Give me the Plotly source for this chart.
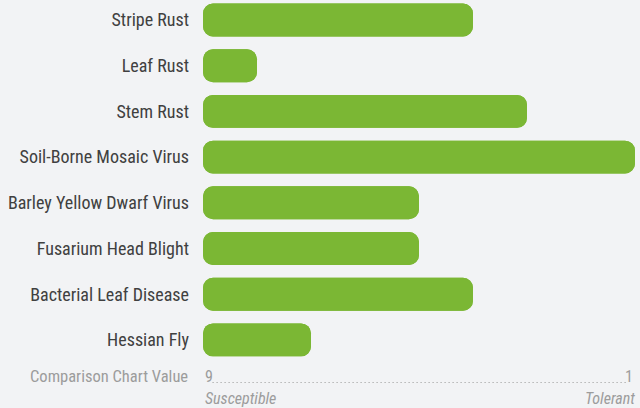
import plotly.graph_objects as go

categories = ["Stripe Rust", "Leaf Rust", "Stem Rust", "Soil-Borne Mosaic Virus",
              "Barley Yellow Dwarf Virus", "Fusarium Head Blight",
              "Bacterial Leaf Disease", "Hessian Fly"]
ratings = [4, 8, 3, 1, 5, 5, 4, 7]   # 9 = susceptible, 1 = tolerant
scale_low, scale_high = 9, 1
scale_title = "Comparison Chart Value"
low_label, high_label = "Susceptible", "Tolerant"

BG = "#f2f3f5"
GREEN = "#7bb734"
FONT = "Liberation Sans Narrow, Roboto Condensed, Arial Narrow, sans-serif"

fig = go.Figure()
# two overlaid bars so both ends get rounded corners
fig.add_trace(go.Bar(
    y=categories, x=[r - scale_low for r in ratings], base=[scale_low] * len(ratings),
    orientation="h", width=0.72, marker=dict(color=GREEN, cornerradius=10, line_width=0),
    hoverinfo="skip", showlegend=False))
fig.add_trace(go.Bar(
    y=categories, x=[scale_low - r for r in ratings], base=ratings,
    orientation="h", width=0.72, marker=dict(color=GREEN, cornerradius=10, line_width=0),
    hoverinfo="skip", showlegend=False))

n = len(categories)
fig.update_layout(
    width=640, height=408,
    margin=dict(l=203, r=5, t=0, b=48, autoexpand=False),
    paper_bgcolor=BG, plot_bgcolor=BG,
    barmode="overlay",
    font=dict(family=FONT),
    xaxis=dict(range=[scale_low, scale_high], visible=False, fixedrange=True,
               automargin=False),
    yaxis=dict(
        type="category", categoryorder="array", categoryarray=categories,
        range=[n - 1 + 0.44, -0.4376], automargin=False,
        showgrid=False, zeroline=False, showline=False, ticks="",
        ticklabelstandoff=13,
        tickfont=dict(family=FONT, size=18, color="#404040"),
        fixedrange=True),
)

gray = "#9c9c9c"
row1_y = -0.047
row2_y = -0.108
fs = 16
fig.add_annotation(xref="paper", yref="paper", x=0, y=row1_y, xshift=-13,
                   xanchor="right", yanchor="middle", showarrow=False,
                   text=scale_title, font=dict(family=FONT, size=16.5, color=gray))
fig.add_annotation(xref="x", yref="paper", x=scale_low, y=row1_y,
                   xanchor="left", yanchor="middle", showarrow=False,
                   text=str(scale_low), font=dict(family=FONT, size=fs, color=gray))
fig.add_annotation(xref="x", yref="paper", x=scale_high, y=row1_y,
                   xanchor="right", yanchor="middle", showarrow=False,
                   text=str(scale_high), font=dict(family=FONT, size=fs, color=gray))
fig.add_annotation(xref="x", yref="paper", x=scale_low, y=row2_y,
                   xanchor="left", yanchor="middle", showarrow=False,
                   text="<i>" + low_label + "</i>", font=dict(family=FONT, size=fs, color=gray))
fig.add_annotation(xref="x", yref="paper", x=scale_high, y=row2_y, xshift=2,
                   xanchor="right", yanchor="middle", showarrow=False,
                   text="<i>" + high_label + "</i>", font=dict(family=FONT, size=fs, color=gray))

span = scale_low - scale_high
fig.add_shape(type="line", xref="x", yref="paper",
              x0=scale_low - span * 0.022, x1=scale_high + span * 0.018,
              y0=-0.0625, y1=-0.0625,
              line=dict(color="#a5a5a5", width=1.2, dash="1.2px,2.8px"))

fig.write_html("out.html", config={"displayModeBar": False},
               post_script="document.body.style.margin='0';document.body.style.background='%s';" % BG)
